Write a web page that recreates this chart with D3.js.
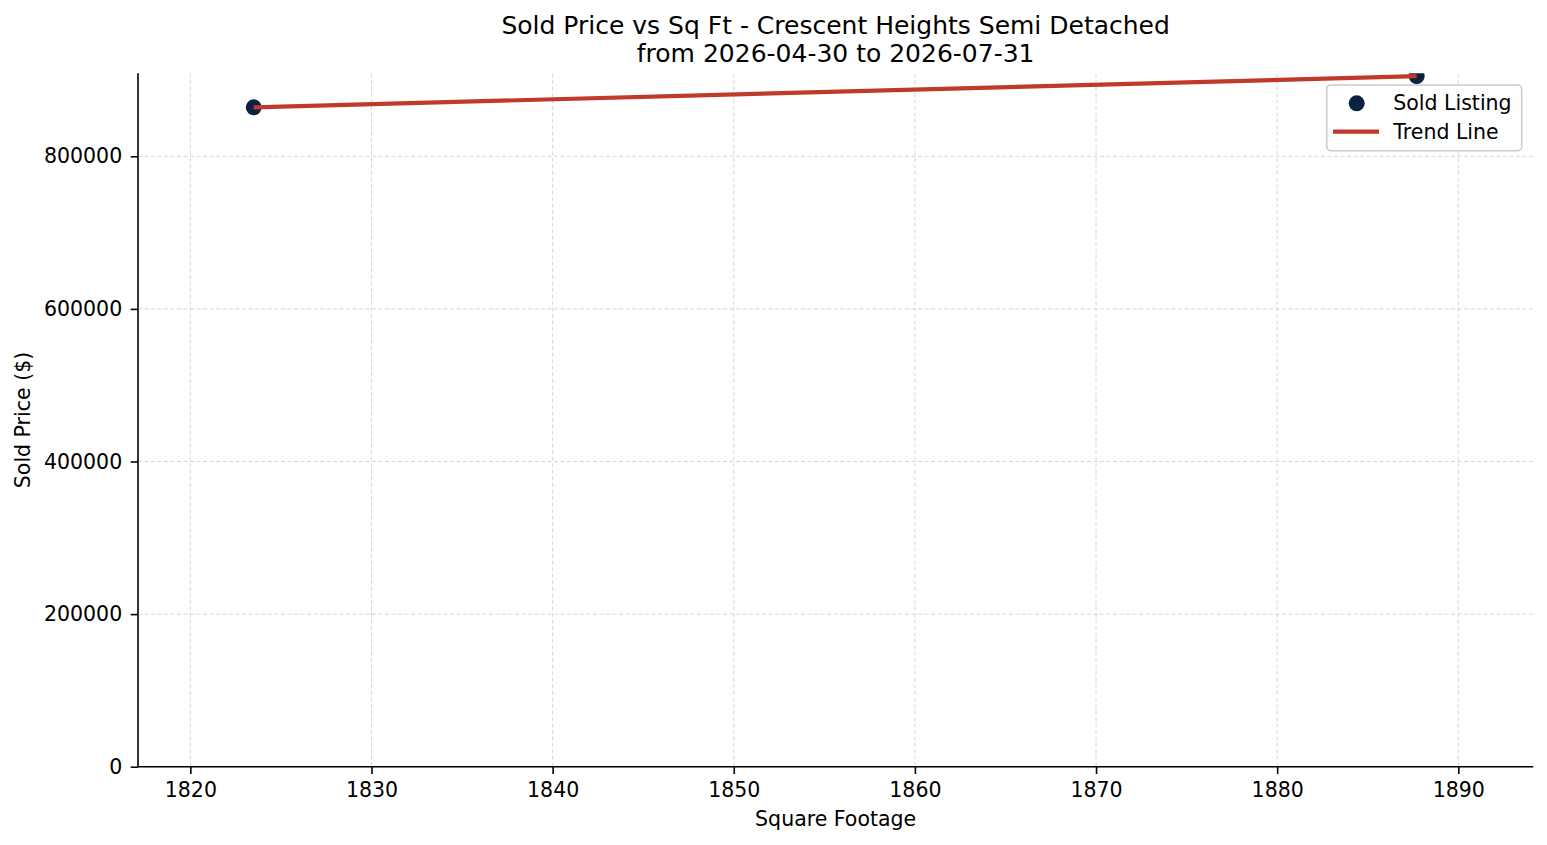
<!DOCTYPE html>
<html>
<head>
<meta charset="utf-8">
<script src="https://cdn.jsdelivr.net/npm/d3@7"></script>
<style>
  body { margin: 0; background: #fff; }
  svg text { font-family: "DejaVu Sans", sans-serif; fill: #000; }
</style>
</head>
<body>
<div id="chart"></div>
<script>
// data
var sqft = [1823.5, 1887.7];
var soldPrice = [864200, 905000];
var trendX = [1823.5, 1887.7];
var trendY = [864200, 905000];
var xTicks = [1820, 1830, 1840, 1850, 1860, 1870, 1880, 1890];
var yTicks = [0, 200000, 400000, 600000, 800000];
var titleLines = ["Sold Price vs Sq Ft - Crescent Heights Semi Detached", "from 2026-04-30 to 2026-07-31"];

var width = 1547;
var height = 845;

var margin = { top: 73.3, right: 13.7, bottom: 78.3, left: 138 };
var chartWidth = width - margin.left - margin.right;
var chartHeight = height - margin.top - margin.bottom;

var svg = d3.select("#chart")
  .append("svg")
  .attr("width", width)
  .attr("height", height);

svg.append("defs").append("clipPath")
  .attr("id", "plot-clip")
  .append("rect")
  .attr("width", chartWidth)
  .attr("height", chartHeight);

var chartGroup = svg.append("g")
  .attr("transform", `translate(${margin.left}, ${margin.top})`);

var x = d3.scaleLinear().domain([1817.11, 1894.14]).range([0, chartWidth]);
var y = d3.scaleLinear().domain([0, 908780]).range([chartHeight, 0]);

// grid
chartGroup.append("g")
  .selectAll("line.vgrid")
  .data(xTicks)
  .enter()
  .append("line")
  .attr("x1", d => x(d)).attr("x2", d => x(d))
  .attr("y1", 0).attr("y2", chartHeight)
  .attr("stroke", "#d6d6d6")
  .attr("stroke-width", 1)
  .attr("stroke-dasharray", "4,2.5");

chartGroup.append("g")
  .selectAll("line.hgrid")
  .data(yTicks)
  .enter()
  .append("line")
  .attr("x1", 0).attr("x2", chartWidth)
  .attr("y1", d => y(d)).attr("y2", d => y(d))
  .attr("stroke", "#d6d6d6")
  .attr("stroke-width", 1)
  .attr("stroke-dasharray", "4,2.5");

// axes
var bottomAxis = d3.axisBottom(x).tickValues(xTicks).tickFormat(d3.format("d")).tickSize(7.3).tickPadding(8.5);
var leftAxis = d3.axisLeft(y).tickValues(yTicks).tickFormat(d3.format("d")).tickSize(7.3).tickPadding(8.5);

var xAxis = chartGroup.append("g")
  .attr("transform", `translate(0,${chartHeight})`)
  .call(bottomAxis);

var yAxis = chartGroup.append("g")
  .call(leftAxis);

[xAxis, yAxis].forEach(function (ax) {
  ax.select(".domain").attr("stroke", "#000").attr("stroke-width", 1.6);
  ax.selectAll(".tick line").attr("stroke", "#000").attr("stroke-width", 1.6);
  ax.selectAll(".tick text").attr("font-size", "20.5px").attr("fill", "#000");
});
xAxis.select(".domain").attr("d", `M0,0H${chartWidth}`);
yAxis.select(".domain").attr("d", `M0,0V${chartHeight}`);

// plot marks
var plotArea = chartGroup.append("g").attr("clip-path", "url(#plot-clip)");

var trend = trendX.map((d, i) => [d, trendY[i]]);

plotArea.selectAll("circle")
  .data(sqft)
  .enter()
  .append("circle")
  .attr("cx", d => x(d))
  .attr("cy", (d, i) => y(soldPrice[i]))
  .attr("r", 8)
  .attr("fill", "#0b2341");

// trend line drawn on top of the points
plotArea.append("path")
  .datum(trend)
  .attr("fill", "none")
  .attr("stroke", "#c0392b")
  .attr("stroke-width", 4.2)
  .attr("d", d3.line().x(d => x(d[0])).y(d => y(d[1])));

// title
svg.append("text")
  .attr("x", margin.left + chartWidth / 2)
  .attr("y", 34)
  .attr("text-anchor", "middle")
  .attr("font-size", "25px")
  .text(titleLines[0]);

svg.append("text")
  .attr("x", margin.left + chartWidth / 2)
  .attr("y", 61.5)
  .attr("text-anchor", "middle")
  .attr("font-size", "25px")
  .text(titleLines[1]);

// axis labels
svg.append("text")
  .attr("x", margin.left + chartWidth / 2)
  .attr("y", 826)
  .attr("text-anchor", "middle")
  .attr("font-size", "20.5px")
  .text("Square Footage");

svg.append("text")
  .attr("transform", `translate(30, ${margin.top + chartHeight / 2}) rotate(-90)`)
  .attr("text-anchor", "middle")
  .attr("font-size", "20.5px")
  .text("Sold Price ($)");

// legend
var legend = svg.append("g").attr("transform", "translate(1326.7, 85)");
legend.append("rect")
  .attr("width", 195)
  .attr("height", 65.7)
  .attr("rx", 4)
  .attr("fill", "#fff")
  .attr("fill-opacity", 0.8)
  .attr("stroke", "#cccccc")
  .attr("stroke-width", 1.6);

legend.append("circle")
  .attr("cx", 30)
  .attr("cy", 18.3)
  .attr("r", 8)
  .attr("fill", "#0b2341");

legend.append("line")
  .attr("x1", 6.3).attr("x2", 52.3)
  .attr("y1", 46.7).attr("y2", 46.7)
  .attr("stroke", "#c0392b")
  .attr("stroke-width", 4.2);

legend.append("text")
  .attr("x", 66.6)
  .attr("y", 25)
  .attr("font-size", "20.5px")
  .text("Sold Listing");

legend.append("text")
  .attr("x", 66.6)
  .attr("y", 53.5)
  .attr("font-size", "20.5px")
  .text("Trend Line");
</script>
</body>
</html>
